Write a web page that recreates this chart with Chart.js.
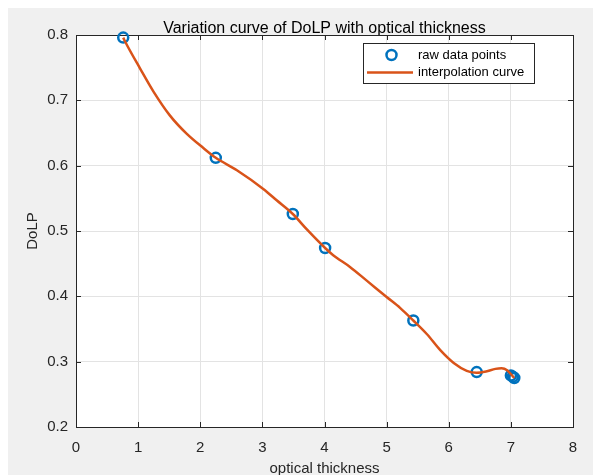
<!DOCTYPE html>
<html>
<head>
<meta charset="utf-8">
<script src="https://cdn.jsdelivr.net/npm/chart.js@4"></script>
<style>
  html, body { margin: 0; padding: 0; background: #fff; }
  #wrap { width: 593px; height: 475px; }
</style>
</head>
<body>
<div id="wrap"><canvas id="chart" width="593" height="475"></canvas></div>
<script>
// raw measurements
const rawX = [0.76, 2.25, 3.49, 4.01, 5.43, 6.45, 7.0, 7.03, 7.055]
const rawY = [0.796, 0.612, 0.526, 0.474, 0.363, 0.284, 0.279, 0.277, 0.275]

// interpolation curve
const curveX = [0.76, 0.79, 1.03, 1.25, 1.51, 1.78, 2.05, 2.25, 2.59, 3.02, 3.23, 3.49, 3.72, 4.01, 4.14, 4.41, 4.68, 5.00, 5.22, 5.43, 5.65, 5.86, 6.08, 6.29, 6.45, 6.60, 6.75, 6.85, 6.94, 7.055]
const curveY = [0.796, 0.790, 0.749, 0.713, 0.677, 0.649, 0.627, 0.612, 0.593, 0.564, 0.547, 0.526, 0.502, 0.474, 0.463, 0.445, 0.424, 0.399, 0.382, 0.363, 0.342, 0.318, 0.298, 0.286, 0.283, 0.285, 0.289, 0.290, 0.287, 0.275]

const xTicks = [0, 1, 2, 3, 4, 5, 6, 7, 8]
const yTicks = [0.2, 0.3, 0.4, 0.5, 0.6, 0.7, 0.8]

const BLUE = '#0072BD'
const ORANGE = '#D95319'
const AXIS = '#262626'
const FONT = "'Liberation Sans', Arial, sans-serif"

// grey figure background + white axes area
const background = {
  id: 'background',
  beforeDraw(chart) {
    const { ctx, chartArea: a, width, height } = chart
    ctx.save()
    ctx.fillStyle = '#ffffff'
    ctx.fillRect(0, 0, width, height)
    ctx.fillStyle = '#f0f0f0'
    ctx.fillRect(8, 8, width - 8, height - 8)
    ctx.fillStyle = '#ffffff'
    ctx.fillRect(a.left, a.top, a.right - a.left, a.bottom - a.top)
    ctx.restore()
  }
}

// box with inward ticks on all four sides
const frame = {
  id: 'frame',
  beforeDatasetsDraw(chart) {
    const { ctx, chartArea: a, scales } = chart
    ctx.save()
    ctx.strokeStyle = AXIS
    ctx.lineWidth = 1
    ctx.strokeRect(Math.round(a.left) + 0.5, Math.round(a.top) + 0.5,
      Math.round(a.right - a.left), Math.round(a.bottom - a.top))
    ctx.beginPath()
    xTicks.forEach(v => {
      const px = Math.round(scales.x.getPixelForValue(v)) + 0.5
      ctx.moveTo(px, a.bottom); ctx.lineTo(px, a.bottom - 5)
      ctx.moveTo(px, a.top); ctx.lineTo(px, a.top + 5)
    })
    yTicks.forEach(v => {
      const py = Math.round(scales.y.getPixelForValue(v)) + 0.5
      ctx.moveTo(a.left, py); ctx.lineTo(a.left + 5, py)
      ctx.moveTo(a.right, py); ctx.lineTo(a.right - 5, py)
    })
    ctx.stroke()
    ctx.restore()
  }
}

// MATLAB-like legend box in the upper right of the axes
const boxLegend = {
  id: 'boxLegend',
  afterDraw(chart) {
    const { ctx } = chart
    const ds = chart.data.datasets
    const x0 = 363.5, y0 = 43.5, w = 171, h = 40
    ctx.save()
    ctx.fillStyle = '#ffffff'
    ctx.fillRect(x0, y0, w, h)
    ctx.strokeStyle = AXIS
    ctx.lineWidth = 1
    ctx.strokeRect(x0, y0, w, h)

    ctx.strokeStyle = BLUE
    ctx.lineWidth = 2.5
    ctx.beginPath()
    ctx.arc(391.5, 55, 5, 0, Math.PI * 2)
    ctx.stroke()

    ctx.strokeStyle = ORANGE
    ctx.beginPath()
    ctx.moveTo(367, 72.5); ctx.lineTo(413, 72.5)
    ctx.stroke()

    ctx.fillStyle = '#000'
    ctx.font = '13px ' + FONT
    ctx.textBaseline = 'middle'
    ctx.textAlign = 'left'
    ctx.fillText(ds[0].label, 418, 55)
    ctx.fillText(ds[1].label, 418, 72)
    ctx.restore()
  }
}

const ctx = document.getElementById('chart').getContext('2d')
new Chart(ctx, {
  type: 'scatter',
  data: {
    datasets: [{
      label: 'raw data points',
      data: rawX.map((x, i) => ({ x, y: rawY[i] })),
      showLine: false,
      pointRadius: 5,
      pointBorderWidth: 2.5,
      pointBorderColor: BLUE,
      pointBackgroundColor: 'rgba(0,0,0,0)',
      order: 1
    }, {
      label: 'interpolation curve',
      data: curveX.map((x, i) => ({ x, y: curveY[i] })),
      showLine: true,
      borderColor: ORANGE,
      borderWidth: 2.5,
      pointRadius: 0,
      cubicInterpolationMode: 'monotone',
      order: 0
    }]
  },
  options: {
    responsive: false,
    animation: false,
    clip: false,
    layout: { padding: { left: 0, right: 20, top: 0, bottom: 0 } },
    plugins: {
      legend: { display: false },
      tooltip: { enabled: false },
      title: {
        display: true,
        fullSize: false,
        text: 'Variation curve of DoLP with optical thickness',
        color: '#000',
        font: { family: FONT, size: 16, weight: 'normal', lineHeight: 1 },
        padding: { top: 21, bottom: -2 }
      }
    },
    scales: {
      x: {
        type: 'linear',
        min: 0, max: 8,
        afterFit: s => { s.height = 48 },
        afterBuildTicks: s => { s.ticks = xTicks.map(v => ({ value: v })) },
        grid: { color: '#e3e3e3', drawTicks: false },
        border: { display: false },
        ticks: { color: AXIS, padding: 12, font: { family: FONT, size: 15 } },
        title: {
          display: true, text: 'optical thickness', color: AXIS,
          font: { family: FONT, size: 15 }, padding: { top: 0, bottom: -3 }
        }
      },
      y: {
        type: 'linear',
        min: 0.2, max: 0.8,
        afterFit: s => { s.width = 76 },
        afterBuildTicks: s => { s.ticks = yTicks.map(v => ({ value: v })) },
        grid: { color: '#e3e3e3', drawTicks: false },
        border: { display: false },
        ticks: { color: AXIS, padding: 8, font: { family: FONT, size: 15 }, callback: v => v.toFixed(1) },
        title: {
          display: true, text: 'DoLP', color: AXIS,
          font: { family: FONT, size: 15 }, padding: { top: 24, bottom: 0 }
        }
      }
    }
  },
  plugins: [background, frame, boxLegend]
})
</script>
</body>
</html>
